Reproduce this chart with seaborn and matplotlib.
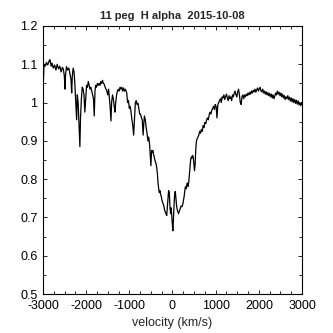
import matplotlib
matplotlib.use("Agg")
import matplotlib.pyplot as plt
import seaborn as sns
import pandas as pd
from matplotlib.ticker import MultipleLocator

velocity = [
    -3000, -2990, -2975, -2950, -2920, -2890, -2860, -2840, -2810, -2790,
    -2760, -2730, -2700, -2670, -2640, -2610, -2580, -2550, -2530, -2505,
    -2490, -2475, -2455, -2430, -2400, -2375, -2350, -2335, -2320, -2300,
    -2280, -2260, -2240, -2220, -2205, -2185, -2160, -2145, -2130, -2110,
    -2090, -2070, -2050, -2030, -2010, -1990, -1970, -1950, -1930, -1910,
    -1890, -1870, -1850, -1830, -1812, -1795, -1780, -1760, -1740, -1720,
    -1700, -1680, -1660, -1640, -1620, -1600, -1580, -1560, -1540, -1520,
    -1500, -1480, -1460, -1445, -1425, -1410, -1390, -1370, -1350, -1332,
    -1315, -1295, -1275, -1255, -1235, -1215, -1195, -1175, -1155, -1135,
    -1115, -1095, -1075, -1060, -1040, -1020, -1000, -985, -965, -945,
    -920, -900, -880, -860, -840, -820, -800, -780, -760, -740,
    -720, -700, -680, -665, -650, -630, -610, -590, -570, -550,
    -530, -515, -500, -485, -470, -455, -440, -425, -410, -395,
    -380, -365, -350, -335, -320, -305, -290, -275, -260, -245,
    -230, -215, -200, -185, -170, -150, -134, -120, -105, -90,
    -74, -60, -45, -30, -15, 0, 8, 20, 35, 50,
    65, 80, 95, 110, 125, 140, 155, 170, 185, 200,
    220, 240, 255, 270, 285, 300, 315, 330, 345, 360,
    375, 390, 405, 420, 435, 450, 465, 480, 495, 510,
    525, 540, 555, 570, 590, 610, 630, 650, 670, 690,
    710, 730, 750, 770, 790, 810, 830, 850, 870, 890,
    910, 930, 950, 970, 990, 1010, 1030, 1050, 1070, 1090,
    1110, 1130, 1150, 1170, 1190, 1210, 1230, 1250, 1270, 1290,
    1310, 1330, 1350, 1370, 1390, 1410, 1430, 1450, 1470, 1490,
    1510, 1530, 1550, 1570, 1590, 1610, 1630, 1650, 1670, 1690,
    1710, 1730, 1750, 1770, 1790, 1810, 1830, 1850, 1870, 1890,
    1910, 1930, 1950, 1970, 1990, 2010, 2030, 2050, 2070, 2090,
    2110, 2130, 2150, 2170, 2190, 2210, 2230, 2250, 2270, 2290,
    2310, 2330, 2350, 2370, 2390, 2410, 2430, 2450, 2470, 2490,
    2510, 2530, 2550, 2570, 2590, 2610, 2630, 2650, 2670, 2690,
    2710, 2730, 2750, 2770, 2790, 2810, 2830, 2850, 2870, 2890,
    2910, 2930, 2950, 2970, 2990, 3000,
]

flux = [
    1.090, 1.055, 1.100, 1.095, 1.105, 1.098, 1.108, 1.112, 1.095, 1.103,
    1.090, 1.098, 1.085, 1.100, 1.088, 1.095, 1.080, 1.092, 1.088, 1.070,
    1.035, 1.075, 1.094, 1.085, 1.090, 1.075, 1.060, 1.025, 1.070, 1.090,
    1.080, 1.045, 1.000, 0.955, 1.020, 1.000, 0.930, 0.885, 0.960, 1.010,
    1.040, 1.035, 1.020, 0.975, 1.010, 1.045, 1.040, 1.055, 1.045, 1.035,
    1.040, 1.030, 1.020, 1.010, 0.965, 1.030, 1.045, 1.040, 1.050, 1.045,
    1.050, 1.045, 1.055, 1.050, 1.058, 1.050, 1.048, 1.040, 1.035, 1.030,
    1.020, 1.035, 1.010, 0.990, 0.952, 1.000, 1.020, 1.010, 0.990, 0.975,
    1.000, 1.020, 1.030, 1.035, 1.030, 1.040, 1.035, 1.040, 1.030, 1.038,
    1.030, 1.035, 1.030, 1.025, 1.000, 1.005, 0.985, 0.990, 0.980, 0.960,
    0.940, 0.915, 0.955, 1.000, 1.005, 0.995, 0.998, 0.985, 0.970, 0.970,
    0.960, 0.955, 0.915, 0.945, 0.965, 0.955, 0.935, 0.920, 0.900, 0.910,
    0.890, 0.860, 0.835, 0.875, 0.870, 0.875, 0.865, 0.860, 0.850, 0.845,
    0.840, 0.830, 0.815, 0.790, 0.775, 0.765, 0.770, 0.760, 0.755, 0.745,
    0.740, 0.735, 0.730, 0.720, 0.715, 0.710, 0.705, 0.725, 0.750, 0.770,
    0.765, 0.730, 0.710, 0.725, 0.700, 0.675, 0.665, 0.690, 0.730, 0.760,
    0.768, 0.750, 0.730, 0.720, 0.715, 0.710, 0.715, 0.720, 0.725, 0.730,
    0.728, 0.735, 0.745, 0.755, 0.770, 0.780, 0.775, 0.785, 0.790, 0.780,
    0.790, 0.810, 0.830, 0.850, 0.858, 0.855, 0.862, 0.858, 0.840, 0.822,
    0.840, 0.880, 0.900, 0.905, 0.910, 0.915, 0.925, 0.920, 0.930, 0.925,
    0.940, 0.935, 0.948, 0.945, 0.955, 0.960, 0.955, 0.968, 0.975, 0.970,
    0.980, 0.985, 0.990, 0.982, 0.995, 0.990, 0.960, 0.995, 1.000, 1.005,
    1.010, 1.000, 1.015, 1.012, 1.020, 1.008, 1.016, 1.022, 1.012, 1.005,
    1.018, 1.010, 1.015, 1.005, 1.020, 1.015, 1.025, 1.030, 1.020, 1.015,
    1.028, 1.035, 1.020, 1.000, 0.995, 1.015, 1.020, 1.010, 1.020, 1.015,
    1.022, 1.018, 1.025, 1.020, 1.027, 1.022, 1.030, 1.025, 1.032, 1.028,
    1.035, 1.027, 1.033, 1.038, 1.030, 1.036, 1.040, 1.030, 1.028, 1.035,
    1.025, 1.030, 1.022, 1.028, 1.020, 1.026, 1.018, 1.024, 1.015, 1.022,
    1.012, 1.020, 1.010, 1.018, 1.025, 1.020, 1.030, 1.022, 1.027, 1.018,
    1.025, 1.015, 1.022, 1.012, 1.018, 1.008, 1.015, 1.010, 1.018, 1.008,
    1.014, 1.004, 1.012, 1.002, 1.010, 1.000, 1.008, 0.998, 1.006, 0.996,
    1.004, 0.994, 1.000, 0.992, 1.000, 0.995,
]

x_ticks = [-3000, -2000, -1000, 0, 1000, 2000, 3000]
y_ticks = [0.5, 0.6, 0.7, 0.8, 0.9, 1.0, 1.1, 1.2]
y_tick_labels = ["0.5", "0.6", "0.7", "0.8", "0.9", "1", "1.1", "1.2"]
title_text = "11 peg  H alpha  2015-10-08"
x_label = "velocity (km/s)"

df = pd.DataFrame({"velocity": velocity, "flux": flux})

sns.set_theme(style="white")
plt.rcParams["font.family"] = ["Liberation Sans", "DejaVu Sans"]

fig = plt.figure(figsize=(3.33, 3.33), dpi=100)
ax = fig.add_axes([0.129, 0.117, 0.778, 0.805])

sns.lineplot(data=df, x="velocity", y="flux", ax=ax, color="black",
             linewidth=0.9, estimator=None, sort=False)

ax.set_xlim(-3000, 3000)
ax.set_ylim(0.5, 1.2)
ax.set_xticks(x_ticks)
ax.set_xticklabels([str(t) for t in x_ticks])
ax.set_yticks(y_ticks)
ax.set_yticklabels(y_tick_labels)
ax.xaxis.set_minor_locator(MultipleLocator(250))
ax.yaxis.set_minor_locator(MultipleLocator(0.05))
ax.tick_params(which="both", direction="in", top=True, right=True,
               bottom=True, left=True, colors="black", labelsize=9)
ax.tick_params(axis="x", which="major", pad=4)
ax.tick_params(axis="y", which="major", pad=4)
ax.tick_params(which="major", length=3, width=0.6)
ax.tick_params(which="minor", length=2.5, width=0.6)
for s in ax.spines.values():
    s.set_color("black")
    s.set_linewidth(0.8)

ax.set_xlabel(x_label, fontsize=9, labelpad=4)
ax.set_ylabel("")
ax.set_title(title_text, fontsize=8, fontweight="bold", pad=5)

fig.savefig("out.png", dpi=100, facecolor="white")
